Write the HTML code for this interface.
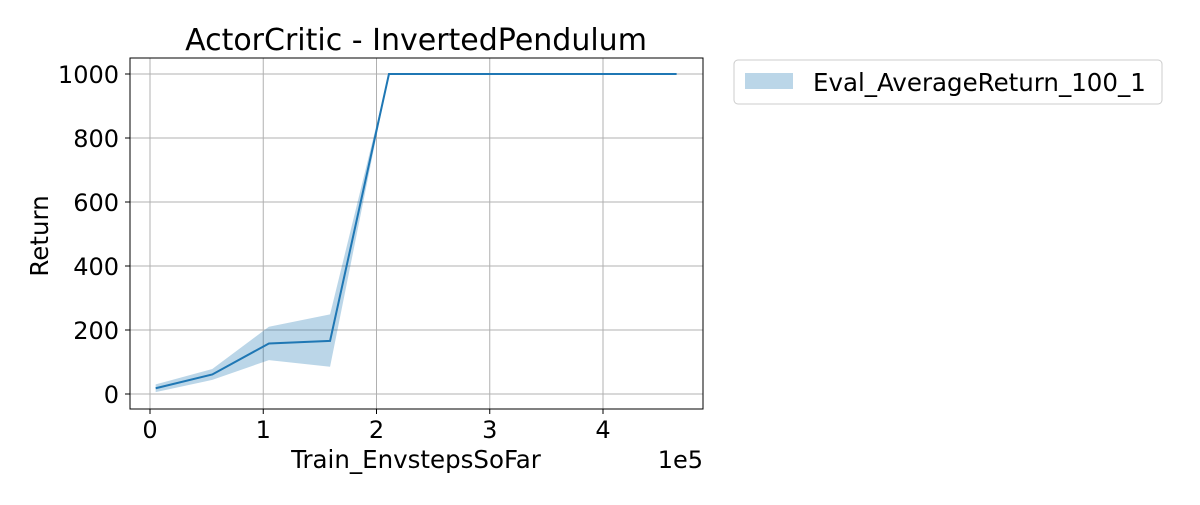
<!DOCTYPE html>
<html><head><meta charset="utf-8"><style>
body{margin:0;background:#fff;font-family:"Liberation Sans","DejaVu Sans",sans-serif}
svg text{font-family:"DejaVu Sans","Liberation Sans",sans-serif;fill:#000}
</style></head><body>
<svg id="c" width="1200" height="500"></svg>
<script>
const xs=[5000,55000,105000,159000,211000,465000];
const means=[18,61,158,166,1000,1000];
const lows=[6,44,106,85,1000,1000];
const highs=[30,78,210,249,1000,1000];
const xTicks=[0,1,2,3,4];
const yTicks=[0,200,400,600,800,1000];
const L=130,R=703,T=58,B=409;
const X=v=>150+v/1e5*113.25;
const Y=v=>394-v*0.32;
const svg=document.getElementById('c');
const NS='http://www.w3.org/2000/svg';
function mk(t,a,p){const e=document.createElementNS(NS,t);for(const k in a)e.setAttribute(k,a[k]);(p||svg).appendChild(e);return e;}
const grid=mk('g',{});


xTicks.forEach(t=>{const x=X(t*1e5);
mk('line',{x1:x,x2:x,y1:T,y2:B,stroke:'#b0b0b0','stroke-width':1},grid);
mk('line',{x1:x,x2:x,y1:B,y2:B+5,stroke:'#000','stroke-width':1});
const tx=mk('text',{x:x,y:B+29,'font-size':24,'text-anchor':'middle'});tx.textContent=t;

});
yTicks.forEach(t=>{const y=Y(t);
mk('line',{x1:L,x2:R,y1:y,y2:y,stroke:'#b0b0b0','stroke-width':1},grid);
mk('line',{x1:L-5,x2:L,y1:y,y2:y,stroke:'#000','stroke-width':1});
const tx=mk('text',{x:L-11,y:y+9,'font-size':24,'text-anchor':'end'});tx.textContent=t;

});
let d='';xs.forEach((v,i)=>d+=(i?'L':'M')+X(v)+','+Y(highs[i]));
for(let i=xs.length-1;i>=0;i--)d+='L'+X(xs[i])+','+Y(lows[i]);
const band=mk('path',{d:d+'Z',fill:'#1f77b4','fill-opacity':0.3});


const line=mk('polyline',{points:xs.map((v,i)=>X(v)+','+Y(means[i])).join(' '),fill:'none',stroke:'#1f77b4','stroke-width':2});


mk('rect',{x:L,y:T,width:R-L,height:B-T,fill:'none',stroke:'#000','stroke-width':1});
let t=mk('text',{x:416,y:50,'font-size':30,'text-anchor':'middle'});t.textContent='ActorCritic - InvertedPendulum';

t=mk('text',{x:416,y:468,'font-size':24.5,'text-anchor':'middle'});t.textContent='Train_EnvstepsSoFar';

t=mk('text',{x:703,y:468,'font-size':24,'text-anchor':'end'});t.textContent='1e5';

t=mk('text',{x:48,y:236,'font-size':24.5,'text-anchor':'middle',transform:'rotate(-90 48 236)'});t.textContent='Return';

const lg=mk('g',{});


mk('rect',{x:734,y:60,width:428,height:44,rx:4,fill:'#fff',stroke:'#ccc'},lg);
mk('rect',{x:745,y:73,width:48,height:16,fill:'#1f77b4','fill-opacity':0.3},lg);
t=mk('text',{x:813,y:91,'font-size':24.5},lg);t.textContent='Eval_AverageReturn_100_1';
</script>
</body></html>
